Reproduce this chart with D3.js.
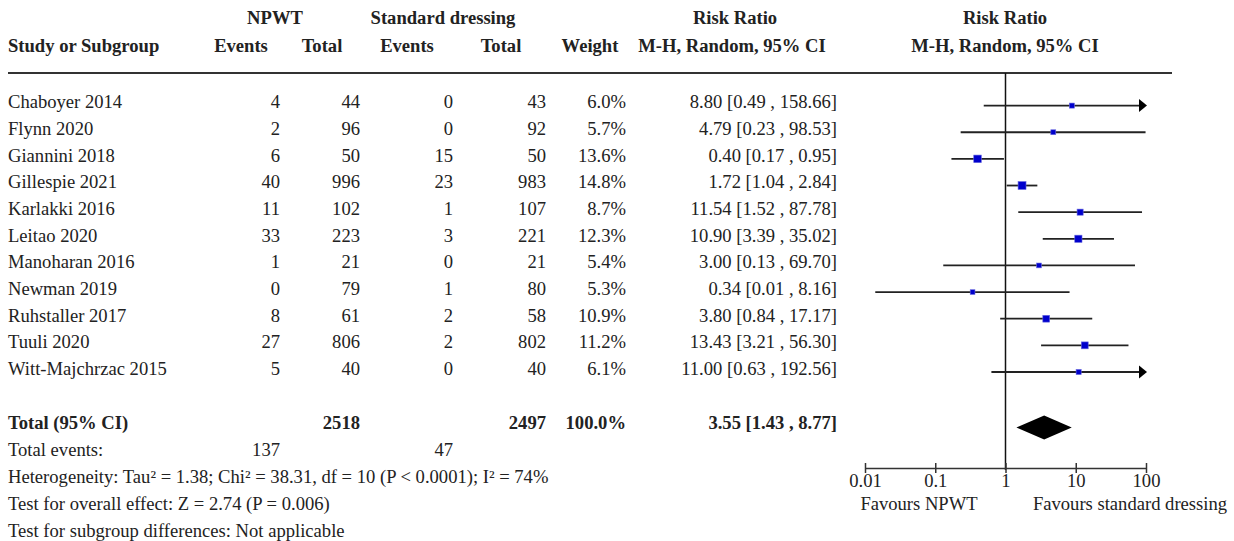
<!DOCTYPE html>
<html><head><meta charset="utf-8">
<script src="https://cdn.jsdelivr.net/npm/d3@7"></script>
<style>
html,body{margin:0;padding:0;background:#fff;}
svg text{font-family:"Liberation Serif","Times New Roman",serif;font-size:18.6px;fill:#222;}
</style></head>
<body><svg id="c" width="1234" height="541"></svg>
<script>
const studies = ["Chaboyer 2014","Flynn 2020","Giannini 2018","Gillespie 2021","Karlakki 2016","Leitao 2020","Manoharan 2016","Newman 2019","Ruhstaller 2017","Tuuli 2020","Witt-Majchrzac 2015"];
const npwtEvents = [4,2,6,40,11,33,1,0,8,27,5];
const npwtTotal = [44,96,50,996,102,223,21,79,61,806,40];
const stdEvents = [0,0,15,23,1,3,0,1,2,2,0];
const stdTotal = [43,92,50,983,107,221,21,80,58,802,40];
const weights = [6.0,5.7,13.6,14.8,8.7,12.3,5.4,5.3,10.9,11.2,6.1];
const rr = [8.80,4.79,0.40,1.72,11.54,10.90,3.00,0.34,3.80,13.43,11.00];
const lower = [0.49,0.23,0.17,1.04,1.52,3.39,0.13,0.014,0.84,3.21,0.63];
const upper = [158.66,98.53,0.95,2.84,87.78,35.02,69.70,8.16,17.17,56.30,192.56];
const totalNpwt = 2518, totalStd = 2497, totalWeight = 100.0;
const totalEventsNpwt = 137, totalEventsStd = 47;
const pooled = {rr:3.55, lo:1.43, hi:8.77};
const axisTicks = [0.01,0.1,1,10,100];
const footLines = ["Heterogeneity: Tau² = 1.38; Chi² = 38.31, df = 10 (P < 0.0001); I² = 74%",
  "Test for overall effect: Z = 2.74 (P = 0.006)",
  "Test for subgroup differences: Not applicable"];

const svg = d3.select("#c");
const x = d3.scaleLog().domain([0.01,100]).range([865,1146]);
const y = d3.scaleLinear().domain([0,10]).range([105.6,372]);
const sz = d3.scaleSqrt().domain([0,15]).range([0,8]);
const f2 = d3.format(".2f");

// header
const h = svg.append("g");
const hdr1 = [["NPWT",275],["Standard dressing",443],["Risk Ratio",735],["Risk Ratio",1005]];
hdr1.forEach(d=>h.append("text").attr("x",d[1]).attr("y",24).attr("text-anchor","middle").style("font-weight","bold").text(d[0]));
h.append("text").attr("x",8).attr("y",52).style("font-weight","bold").text("Study or Subgroup");
const hdr2 = [["Events",241],["Total",322],["Events",407],["Total",501],["Weight",590],["M-H, Random, 95% CI",732],["M-H, Random, 95% CI",1005]];
hdr2.forEach(d=>h.append("text").attr("x",d[1]).attr("y",52).attr("text-anchor","middle").style("font-weight","bold").text(d[0]));
svg.append("line").attr("x1",8).attr("x2",1172).attr("y1",73).attr("y2",73).attr("stroke","#333").attr("stroke-width",2);

// rows
const cols = [
  {v:i=>npwtEvents[i], x:280},
  {v:i=>npwtTotal[i], x:360},
  {v:i=>stdEvents[i], x:453},
  {v:i=>stdTotal[i], x:546},
  {v:i=>weights[i].toFixed(1)+"%", x:626},
  {v:i=>f2(rr[i])+" ["+f2(lower[i])+" , "+f2(upper[i])+"]", x:837}
];
studies.forEach((s,i)=>{
  const yy = y(i)+2.8;
  svg.append("text").attr("x",8).attr("y",yy).text(s);
  cols.forEach(c=>svg.append("text").attr("x",c.x).attr("y",yy).attr("text-anchor","end").text(c.v(i)));
});

// zero line
svg.append("line").attr("x1",x(1)).attr("x2",x(1)).attr("y1",73).attr("y2",470).attr("stroke","#111").attr("stroke-width",1.5);

// CI lines
const g = svg.append("g");
studies.forEach((s,i)=>{
  const yy = y(i);
  const lo = Math.max(lower[i],0.01), hi = Math.min(upper[i],100);
  const x2 = upper[i]>100 ? x(100)-6 : x(hi);
  g.append("line").attr("x1",x(lo)).attr("x2",x2).attr("y1",yy).attr("y2",yy).attr("stroke","#222").attr("stroke-width",1.8);
  if(upper[i]>100){
    g.append("path").attr("d",`M${x(100)-7},${yy-6.5}L${x(100)+1},${yy}L${x(100)-7},${yy+6.5}Z`).attr("fill","#000");
  }
  const s2 = sz(weights[i]);
  g.append("rect").attr("x",x(rr[i])-s2/2).attr("y",yy-s2/2).attr("width",s2).attr("height",s2).attr("fill","#0000cc").attr("stroke","#6a6ae0").attr("stroke-width",0.6);
});

// total row
const ty = 429;
svg.append("text").attr("x",8).attr("y",ty).style("font-weight","bold").text("Total (95% CI)");
[[totalNpwt,360],[totalStd,546],[totalWeight.toFixed(1)+"%",626],[f2(pooled.rr)+" ["+f2(pooled.lo)+" , "+f2(pooled.hi)+"]",837]].forEach(d=>
  svg.append("text").attr("x",d[1]).attr("y",ty).attr("text-anchor","end").style("font-weight","bold").text(d[0]));
const dy = 427.5;
svg.append("path").attr("d",`M${x(pooled.lo)},${dy}L${x(pooled.rr)},${dy-12}L${x(pooled.hi)},${dy}L${x(pooled.rr)},${dy+12}Z`).attr("fill","#000");

svg.append("text").attr("x",8).attr("y",456).text("Total events:");
svg.append("text").attr("x",280).attr("y",456).attr("text-anchor","end").text(totalEventsNpwt);
svg.append("text").attr("x",453).attr("y",456).attr("text-anchor","end").text(totalEventsStd);
footLines.forEach((t,i)=>svg.append("text").attr("x",8).attr("y",483+27*i).text(t));

// axis
const ax = svg.append("g").attr("transform","translate(0,468)")
  .call(d3.axisBottom(x).tickValues(axisTicks).tickFormat(d=>String(d)).tickSize(0).tickPadding(0));
ax.select(".domain").attr("stroke","#333").attr("stroke-width",1.5);
ax.selectAll(".tick line").attr("y1",-5).attr("y2",5).attr("stroke","#333").attr("stroke-width",1.5);
ax.selectAll(".tick text").attr("y",19).attr("dy",null).style("font-family","'Liberation Serif',serif").style("font-size","18.6px").attr("fill","#222");
svg.append("text").attr("x",919).attr("y",510).attr("text-anchor","middle").text("Favours NPWT");
svg.append("text").attr("x",1130).attr("y",510).attr("text-anchor","middle").text("Favours standard dressing");
</script></body></html>
